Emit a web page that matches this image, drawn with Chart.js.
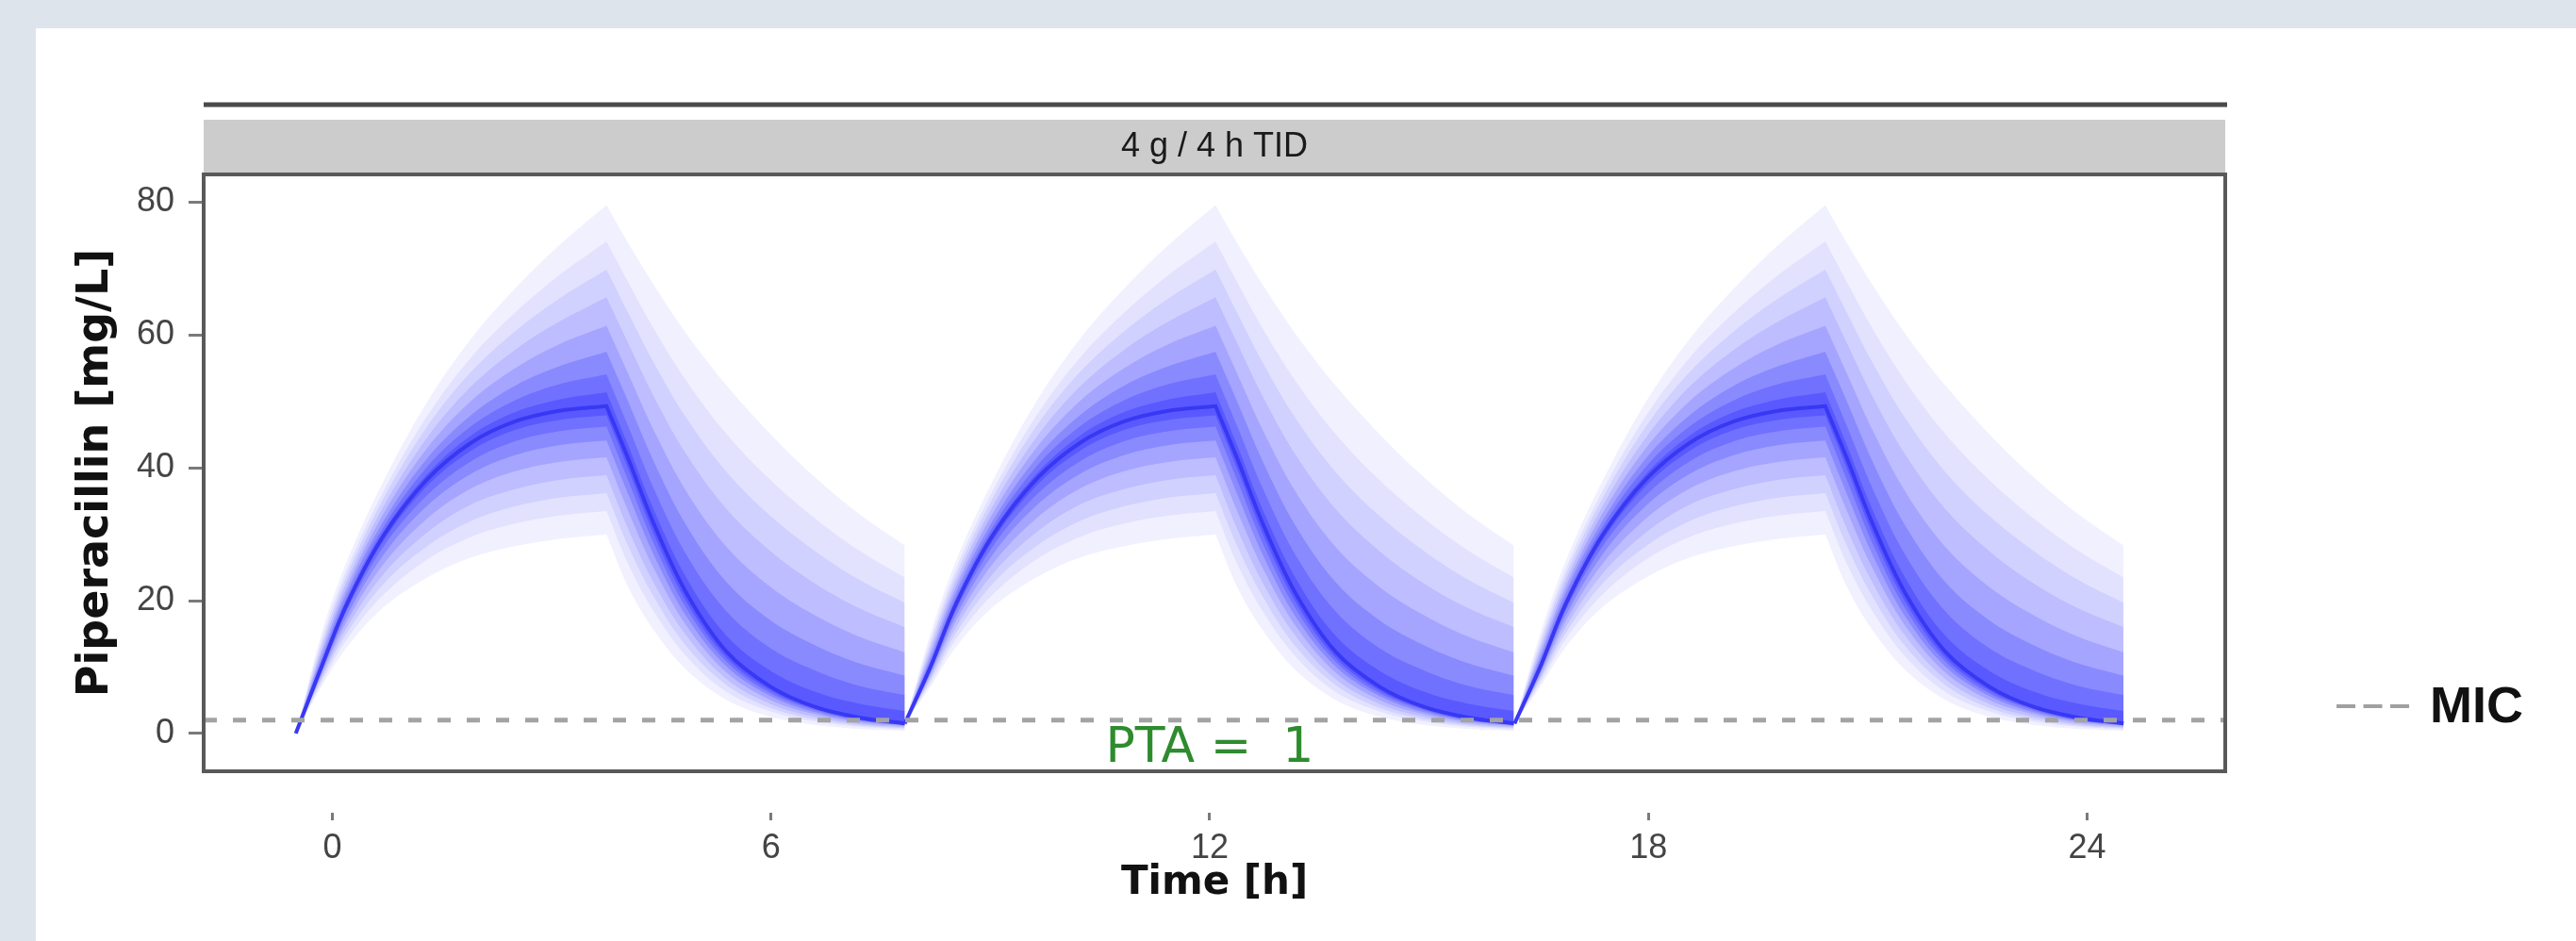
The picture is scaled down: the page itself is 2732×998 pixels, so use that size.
<!DOCTYPE html>
<html>
<head>
<meta charset="utf-8">
<script src="https://cdn.jsdelivr.net/npm/chart.js@4.4.1/dist/chart.umd.min.js"></script>
<style>
html, body { margin: 0; padding: 0; background: #dee4ec; overflow: hidden; }
#panel { position: absolute; left: 38px; top: 30px; width: 2694px; height: 968px; background: #fff; }
#c { position: absolute; left: 0; top: 0; }
</style>
</head>
<body>
<div id="panel"></div>
<canvas id="c" width="2732" height="998"></canvas>
<script>
// dosing: 3 infusions, each cycle has the same simulated profile
var doseStart = [-0.5, 7.83, 16.17];
var cycleStartConc = [0, 1.5, 1.5];
var peakTau = 4.25;

// hours since start of infusion
var tau = [0, 0.35, 0.7, 1.2, 1.8, 2.4, 3.0, 3.6, 4.25, 4.55, 4.9, 5.35, 5.9, 6.5, 7.1, 7.7, 8.33];

var median = [0, 10, 19.5, 29.8, 38.3, 43.8, 47, 48.6, 49.3, 41.3, 31.5, 21, 12.2, 7, 4, 2.4, 1.5];

// quantile curves above the median, outer to inner
var upper1 = [0, 15, 26, 38, 50, 59.5, 67, 73.5, 79.6, 73.8, 67.5, 60.1, 52.3, 45, 38.6, 33.1, 28.3];
var upper2 = [0, 14.1, 24.8, 36.5, 47.9, 56.7, 63.4, 69, 74.1, 67.9, 60.9, 53, 45, 38.1, 32.4, 27.6, 23.5];
var upper3 = [0, 13.4, 23.9, 35.4, 46.3, 54.5, 60.6, 65.5, 69.9, 63.3, 55.8, 47.4, 39.3, 32.7, 27.5, 23.2, 19.7];
var upper4 = [0, 12.7, 23, 34.2, 44.6, 52.3, 57.8, 62, 65.7, 58.7, 50.7, 41.9, 33.7, 27.4, 22.6, 18.9, 16];
var upper5 = [0, 12, 22.1, 33.1, 43, 50.1, 55, 58.6, 61.4, 54.1, 45.6, 36.3, 28, 22, 17.8, 14.6, 12.2];
var upper6 = [0, 11.4, 21.3, 32, 41.5, 48, 52.4, 55.3, 57.5, 49.9, 40.9, 31.2, 22.7, 17, 13.3, 10.6, 8.7];
var upper7 = [0, 10.8, 20.5, 31.1, 40.2, 46.3, 50.2, 52.6, 54.1, 46.2, 36.8, 26.8, 18.3, 12.8, 9.5, 7.2, 5.8];
var upper8 = [0, 10.4, 20, 30.4, 39.1, 44.9, 48.4, 50.3, 51.4, 43.3, 33.6, 23.3, 14.6, 9.4, 6.3, 4.5, 3.4];

// quantile curves below the median, outer to inner
var lower1 = [0, 7, 13, 19, 23.5, 26.5, 28.2, 29.3, 30, 22, 15.5, 9.5, 5, 2.5, 1.3, 0.7, 0.4];
var lower2 = [0, 7.5, 14.2, 20.9, 26.2, 29.6, 31.6, 32.8, 33.5, 25.4, 18.3, 11.5, 6.2, 3.3, 1.8, 1, 0.6];
var lower3 = [0, 8, 15.1, 22.5, 28.2, 32, 34.2, 35.5, 36.2, 28.1, 20.5, 13, 7.2, 3.8, 2.1, 1.2, 0.8];
var lower4 = [0, 8.4, 16, 24, 30.3, 34.5, 36.8, 38.2, 38.9, 30.7, 22.6, 14.6, 8.1, 4.4, 2.5, 1.4, 0.9];
var lower5 = [0, 8.8, 16.9, 25.5, 32.4, 36.9, 39.5, 40.9, 41.6, 33.4, 24.8, 16.1, 9.1, 5, 2.9, 1.7, 1.1];
var lower6 = [0, 9.2, 17.7, 26.9, 34.3, 39.1, 41.9, 43.4, 44.1, 35.9, 26.8, 17.5, 10, 5.6, 3.2, 1.9, 1.2];
var lower7 = [0, 9.5, 18.5, 28.1, 35.9, 41, 44, 45.5, 46.2, 38, 28.5, 18.7, 10.7, 6, 3.5, 2, 1.3];
var lower8 = [0, 9.8, 19, 29, 37.3, 42.6, 45.7, 47.2, 47.9, 39.7, 29.9, 19.7, 11.3, 6.4, 3.7, 2.2, 1.4];

var upperBands = [upper1, upper2, upper3, upper4, upper5, upper6, upper7, upper8];
var lowerBands = [lower1, lower2, lower3, lower4, lower5, lower6, lower7, lower8];

var mic = 2;
var xTicks = [0, 6, 12, 18, 24];
var yTicks = [0, 20, 40, 60, 80];
var stripLabel = '4 g / 4 h TID';
var ptaLabel = 'PTA =  1';

var xMin = -1.76, xMax = 25.89, yMin = -5.7, yMax = 84.2;
var ptaX = 12, ptaY = -4.3;
var bandAlpha = [0.06, 0.06, 0.08, 0.1, 0.13, 0.16, 0.19, 0.22];

function cyclePoints(series, c) {
    var pts = [];
    for (var i = 0; i < tau.length; i++) {
        var p = { x: doseStart[c] + tau[i], y: i === 0 ? cycleStartConc[c] : series[i] };
        pts.push(p);
        // doubled point keeps the end of the infusion as a sharp corner
        if (tau[i] === peakTau) pts.push({ x: p.x, y: p.y });
    }
    return pts;
}

var datasets = [];
datasets.push({
    label: 'MIC',
    data: [{ x: xMin, y: mic }, { x: xMax, y: mic }],
    borderColor: '#a3a3a3',
    borderWidth: 5,
    borderDash: [14, 17],
    pointRadius: 0,
    fill: false,
    order: 0
});
for (var c = 0; c < doseStart.length; c++) {
    datasets.push({
        label: 'median',
        data: cyclePoints(median, c),
        borderColor: '#3838f4',
        borderWidth: 4,
        pointRadius: 0,
        tension: 0.35,
        fill: false,
        order: 1
    });
}
for (var c = 0; c < doseStart.length; c++) {
    for (var l = 0; l < upperBands.length; l++) {
        var lowIdx = datasets.length;
        datasets.push({
            data: cyclePoints(lowerBands[l], c),
            borderWidth: 0,
            pointRadius: 0,
            tension: 0.35,
            fill: false,
            order: 2
        });
        datasets.push({
            data: cyclePoints(upperBands[l], c),
            borderWidth: 0,
            pointRadius: 0,
            tension: 0.35,
            backgroundColor: 'rgba(0, 0, 255, ' + bandAlpha[l] + ')',
            fill: lowIdx,
            order: 2
        });
    }
}

var decor = {
    id: 'decor',
    afterDraw: function(chart) {
        var ctx = chart.ctx, a = chart.chartArea;
        var xs = chart.scales.x, ys = chart.scales.y;
        ctx.save();
        // facet strip
        ctx.fillStyle = '#cccccc';
        ctx.fillRect(a.left, 127, a.right - a.left, a.top - 127);
        ctx.fillStyle = '#1a1a1a';
        ctx.font = '36px "Liberation Sans"';
        ctx.textAlign = 'center';
        ctx.textBaseline = 'middle';
        ctx.fillText(stripLabel, (a.left + a.right) / 2, 156);
        // rule above strip
        ctx.strokeStyle = '#4a4a4a';
        ctx.lineWidth = 5;
        ctx.beginPath();
        ctx.moveTo(a.left, 111);
        ctx.lineTo(a.right + 2, 111);
        ctx.stroke();
        // panel border
        ctx.strokeStyle = '#595959';
        ctx.lineWidth = 4;
        ctx.strokeRect(a.left, a.top, a.right - a.left, a.bottom - a.top);
        // PTA annotation
        ctx.fillStyle = '#2e8b2e';
        ctx.font = '52px "DejaVu Sans"';
        ctx.textBaseline = 'alphabetic';
        ctx.fillText(ptaLabel, xs.getPixelForValue(ptaX), ys.getPixelForValue(ptaY));
        // legend
        ctx.strokeStyle = '#a0a0a0';
        ctx.lineWidth = 4;
        ctx.setLineDash([20, 8.5]);
        ctx.beginPath();
        ctx.moveTo(2478, 749);
        ctx.lineTo(2555, 749);
        ctx.stroke();
        ctx.setLineDash([]);
        ctx.fillStyle = '#111';
        ctx.font = 'bold 54px "Liberation Sans"';
        ctx.textAlign = 'left';
        ctx.textBaseline = 'middle';
        ctx.fillText('MIC', 2577, 751);
        ctx.restore();
    }
};

var chart = new Chart(document.getElementById('c'), {
    type: 'line',
    data: { datasets: datasets },
    options: {
        responsive: false,
        animation: false,
        devicePixelRatio: 1,
        layout: { padding: { left: 0, top: 185, right: 372, bottom: 0 } },
        plugins: { legend: { display: false }, tooltip: { enabled: false } },
        elements: { point: { radius: 0 } },
        scales: {
            x: {
                type: 'linear',
                min: xMin,
                max: xMax,
                afterFit: function(s) { s.height = 180; },
                afterBuildTicks: function(s) { s.ticks = xTicks.map(function(v) { return { value: v }; }); },
                border: { display: false },
                grid: {
                    drawOnChartArea: false,
                    tickLength: 52,
                    tickWidth: 3,
                    tickColor: '#7a7a7a',
                    tickBorderDash: [0, 44, 8, 1000]
                },
                ticks: {
                    padding: 8,
                    color: '#444',
                    font: { family: 'Liberation Sans', size: 36 },
                    maxRotation: 0
                },
                title: {
                    display: true,
                    text: 'Time [h]',
                    color: '#111',
                    font: { family: 'DejaVu Sans', weight: 'bold', size: 42 },
                    padding: { top: 0, bottom: 36 }
                }
            },
            y: {
                min: yMin,
                max: yMax,
                afterFit: function(s) { s.width = 216; },
                afterBuildTicks: function(s) { s.ticks = yTicks.map(function(v) { return { value: v }; }); },
                border: { display: false },
                grid: {
                    drawOnChartArea: false,
                    tickLength: 16,
                    tickWidth: 3,
                    tickColor: '#7a7a7a'
                },
                ticks: {
                    padding: 15,
                    color: '#444',
                    font: { family: 'Liberation Sans', size: 36 }
                },
                title: {
                    display: true,
                    text: 'Piperacillin [mg/L]',
                    color: '#111',
                    font: { family: 'DejaVu Sans', weight: 'bold', size: 46 },
                    padding: { top: 74, bottom: 0 }
                }
            }
        }
    },
    plugins: [decor]
});
</script>
</body>
</html>
